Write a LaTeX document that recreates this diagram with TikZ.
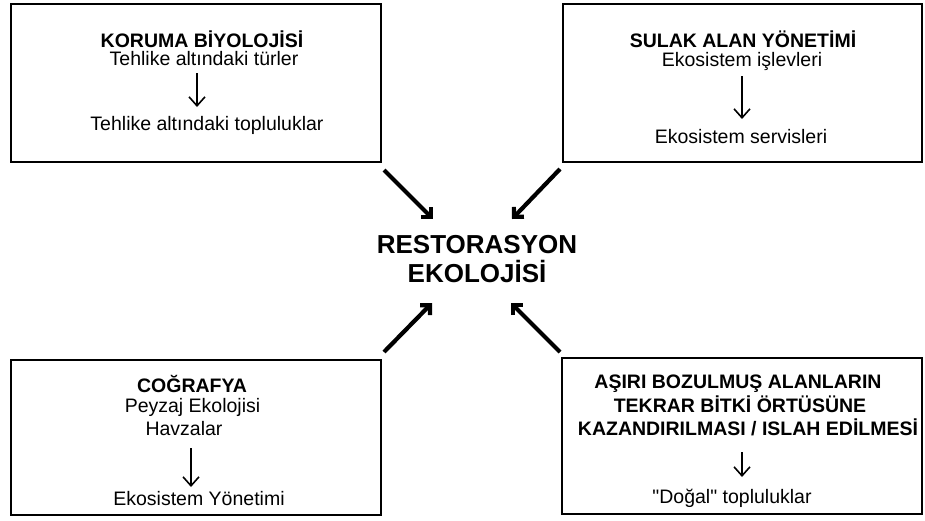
\documentclass[tikz,border=0pt]{standalone}
\usepackage{fontspec}
\newfontfamily\af{Liberation Sans}
\usetikzlibrary{arrows.meta}
\begin{document}
\begin{tikzpicture}[x=1pt,y=-1pt,
  box/.style={draw,line width=2.6pt,inner sep=0pt},
  txt/.style={font=\af\fontsize{19.5}{22}\selectfont,inner sep=0pt,anchor=base},
  ttl/.style={inner sep=0pt,anchor=base,font=\af\bfseries\fontsize{19.5}{22}\selectfont},
  ctr/.style={inner sep=0pt,anchor=base,font=\af\bfseries\fontsize{26}{30}\selectfont},
  small/.style={line width=1.6pt,-{Straight Barb[length=9pt,width=16pt]}},
  big/.style={line width=4.2pt,-{Straight Barb[length=7pt,width=14pt]}}]
\useasboundingbox (0,0) rectangle (925,520);
% boxes
\node[box,minimum width=370pt,minimum height=158pt] (b1) at (196,83) {};
\node[box,minimum width=359pt,minimum height=158pt] (b2) at (742.5,83) {};
\node[box,minimum width=370pt,minimum height=155pt] (b3) at (196,437.5) {};
\node[box,minimum width=360pt,minimum height=156pt] (b4) at (742,436) {};
% centre
\node[ctr] (c1) at (477,253) {RESTORASYON};
\node[ctr] (c2) at (477,282) {EKOLOJİSİ};
% top left
\node[ttl] (t11) at (202,47) {KORUMA BİYOLOJİSİ};
\node[txt] (t12) at (204,65.5) {Tehlike altındaki türler};
\node[txt] (t13) at (207,130) {Tehlike altındaki topluluklar};
\coordinate (s1a) at (197,73);
\coordinate (s1b) at (197,107);
\draw[small] (s1a) -- (s1b);
% top right
\node[ttl] (t21) at (743,47.5) {SULAK ALAN YÖNETİMİ};
\node[txt] (t22) at (742,66) {Ekosistem işlevleri};
\node[txt] (t23) at (741,143) {Ekosistem servisleri};
\coordinate (s2a) at (742,76);
\coordinate (s2b) at (742,119);
\draw[small] (s2a) -- (s2b);
% bottom left
\node[ttl] (t31) at (192,392) {COĞRAFYA};
\node[txt] (t32) at (192.5,412) {Peyzaj Ekolojisi};
\node[txt] (t33) at (184,435) {Havzalar};
\node[txt] (t34) at (199,505) {Ekosistem Yönetimi};
\coordinate (s3a) at (191,448);
\coordinate (s3b) at (191,487);
\draw[small] (s3a) -- (s3b);
% bottom right
\node[ttl] (t41) at (738,388) {AŞIRI BOZULMUŞ ALANLARIN};
\node[ttl] (t42) at (740,412) {TEKRAR BİTKİ ÖRTÜSÜNE};
\node[ttl] (t43) at (748,435) {KAZANDIRILMASI / ISLAH EDİLMESİ};
\node[txt] (t44) at (732,503) {"Doğal" topluluklar};
\coordinate (s4a) at (742,452);
\coordinate (s4b) at (742,477);
\draw[small] (s4a) -- (s4b);
% big arrows
\coordinate (p1) at (384,170);
\coordinate (q1) at (433,219);
\coordinate (p2) at (560,169);
\coordinate (q2) at (512,219);
\coordinate (p3) at (384,352);
\coordinate (q3) at (432,303);
\coordinate (p4) at (560,352);
\coordinate (q4) at (511,303);
\draw[big] (p1) -- (q1);
\draw[big] (p2) -- (q2);
\draw[big] (p3) -- (q3);
\draw[big] (p4) -- (q4);
\end{tikzpicture}
\end{document}
